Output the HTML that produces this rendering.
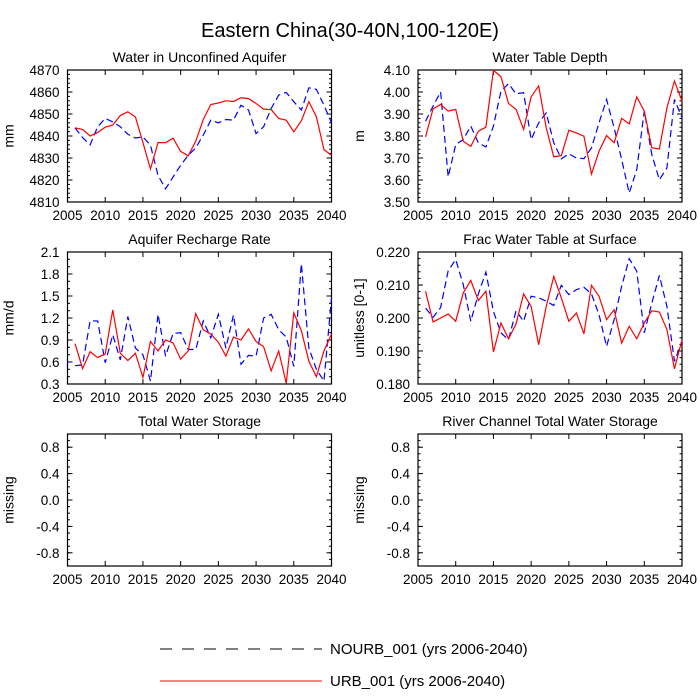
<!DOCTYPE html>
<html><head><meta charset="utf-8"><style>
html,body{margin:0;padding:0;background:#fff;}
svg{display:block;font-family:"Liberation Sans",sans-serif;}
</style></head><body>
<svg id="chart" width="700" height="700" viewBox="0 0 700 700" xmlns="http://www.w3.org/2000/svg">
<text x="350" y="37" text-anchor="middle" font-size="20">Eastern China(30-40N,100-120E)</text>
<g>
<line x1="160" y1="649" x2="322" y2="649" stroke="#000" stroke-width="1" stroke-dasharray="12,10"/>
<text x="330" y="654" font-size="15">NOURB_001 (yrs 2006-2040)</text>
<line x1="160" y1="681" x2="322" y2="681" stroke="#f00" stroke-width="1"/>
<text x="330" y="686" font-size="15">URB_001 (yrs 2006-2040)</text>
</g>
</svg>
<script>
const years = [];
for (let y = 2006; y <= 2040; y++) years.push(y);
const xTicks = [2005,2010,2015,2020,2025,2030,2035,2040];

const aquiferUrb = [4843.7,4843,4840,4841.6,4844,4845,4849.3,4851,4848.7,4837,4825,4837,4837,4839,4833,4831,4837.6,4847.5,4854.3,4855,4856,4855.7,4857.4,4857,4854.8,4852.2,4852,4848,4847.2,4841.9,4846.9,4855.6,4848.7,4833.8,4831.2];
const aquiferNourb = [4843.7,4839.3,4836,4844.2,4848,4846.4,4844.2,4840.8,4839.1,4839.6,4835.8,4822.1,4816,4821.4,4826.7,4831.2,4834.6,4840.4,4847.2,4846,4847.5,4847.2,4854,4851.8,4841.1,4844.2,4852.5,4858.6,4859.8,4855.6,4851.8,4861.9,4861.2,4854,4846];
const wtdUrb = [3.796,3.924,3.943,3.913,3.921,3.776,3.753,3.822,3.840,4.098,4.070,3.948,3.921,3.830,3.978,4.027,3.837,3.705,3.711,3.826,3.814,3.799,3.627,3.731,3.802,3.769,3.880,3.855,3.978,3.913,3.746,3.741,3.928,4.050,3.959];
const wtdNourb = [3.867,3.936,4.000,3.614,3.761,3.784,3.845,3.769,3.750,3.845,4.004,4.038,3.992,3.997,3.784,3.860,3.905,3.769,3.696,3.719,3.700,3.697,3.746,3.860,3.966,3.837,3.693,3.541,3.647,3.913,3.715,3.601,3.655,3.966,3.883];
const rechUrb = [0.85,0.51,0.74,0.66,0.71,1.31,0.72,0.62,0.72,0.39,0.88,0.75,0.90,0.86,0.64,0.75,1.26,1.04,0.98,0.87,0.68,0.94,0.90,1.05,0.88,0.81,0.48,0.75,0.31,1.27,1.03,0.61,0.40,0.75,0.98];
const rechNourb = [0.55,0.56,1.16,1.16,0.59,0.97,0.63,1.22,0.79,0.70,0.34,1.25,0.68,0.99,1.00,0.77,0.77,1.16,0.93,1.25,0.79,1.24,0.57,0.69,0.68,1.20,1.25,1.04,0.94,0.54,1.94,0.79,0.50,0.34,1.47];
const fracUrb = [0.2081,0.1988,0.2000,0.2012,0.1990,0.2076,0.2114,0.2053,0.2081,0.1897,0.1985,0.1937,0.1982,0.2073,0.2035,0.1919,0.2035,0.2126,0.2061,0.1990,0.2015,0.1952,0.2099,0.2066,0.1995,0.2025,0.1924,0.1975,0.1937,0.1985,0.2022,0.2018,0.1965,0.1846,0.1934];
const fracNourb = [0.2030,0.2002,0.2032,0.2143,0.2177,0.2101,0.1990,0.2073,0.2139,0.2020,0.1955,0.1934,0.2022,0.1990,0.2066,0.2061,0.2051,0.2038,0.2099,0.2071,0.2086,0.2093,0.2073,0.2010,0.1914,0.1995,0.2096,0.2180,0.2142,0.1955,0.2045,0.2129,0.2035,0.1869,0.1929];

const ticksAquifer = ["4810","4820","4830","4840","4850","4860","4870"];
const ticksWtd = ["3.50","3.60","3.70","3.80","3.90","4.00","4.10"];
const ticksRech = ["0.3","0.6","0.9","1.2","1.5","1.8","2.1"];
const ticksFrac = ["0.180","0.190","0.200","0.210","0.220"];
const ticksMissing = ["-0.8","-0.4","0.0","0.4","0.8"];

const NS = "http://www.w3.org/2000/svg";
const svg = document.getElementById("chart");
function mk(tag, attrs, parent) {
  const e = document.createElementNS(NS, tag);
  for (const k in attrs) e.setAttribute(k, attrs[k]);
  (parent || svg).appendChild(e);
  return e;
}

const panels = [
  {name:"aquifer", title:"Water in Unconfined Aquifer", ylab:"mm", x0:67.5, y0:70, ymin:4810, ymax:4870, ticks:ticksAquifer, minor:5, urb:aquiferUrb, nourb:aquiferNourb},
  {name:"water-table-depth", title:"Water Table Depth", ylab:"m", x0:418, y0:70, ymin:3.5, ymax:4.1, ticks:ticksWtd, minor:5, urb:wtdUrb, nourb:wtdNourb},
  {name:"recharge", title:"Aquifer Recharge Rate", ylab:"mm/d", x0:67.5, y0:252, ymin:0.3, ymax:2.1, ticks:ticksRech, minor:3, urb:rechUrb, nourb:rechNourb},
  {name:"frac-water-table", title:"Frac Water Table at Surface", ylab:"unitless [0-1]", x0:418, y0:252, ymin:0.18, ymax:0.22, ticks:ticksFrac, minor:5, urb:fracUrb, nourb:fracNourb},
  {name:"total-water-storage", title:"Total Water Storage", ylab:"missing", x0:67.5, y0:434, ymin:-1, ymax:1, ticks:ticksMissing, minor:4, urb:null, nourb:null},
  {name:"river-channel-storage", title:"River Channel Total Water Storage", ylab:"missing", x0:418, y0:434, ymin:-1, ymax:1, ticks:ticksMissing, minor:4, urb:null, nourb:null}
];
const W = 264, H = 132;

panels.forEach(p => {
  const g = mk("g", {});
  
  
  const xs = v => p.x0 + (v - 2005) / 35 * W;
  const ys = v => p.y0 + H - (v - p.ymin) / (p.ymax - p.ymin) * H;

  const t = mk("text", {x: p.x0 + W/2, y: p.y0 - 8, "text-anchor":"middle", "font-size":"14"}, g);
  t.textContent = p.title;
  
  

  const yl = mk("text", {x:0, y:0, "text-anchor":"middle", "font-size":"14", transform:`translate(${p.x0-54},${p.y0+H/2}) rotate(-90)`}, g);
  yl.textContent = p.ylab;
  
  

  xTicks.forEach(v => {
    const x = xs(v);
    mk("line", {x1:x, x2:x, y1:p.y0+H, y2:p.y0+H-5, stroke:"#000"}, g);
    mk("line", {x1:x, x2:x, y1:p.y0, y2:p.y0+5, stroke:"#000"}, g);
    const tl = mk("text", {x:x, y:p.y0+H+18, "text-anchor":"middle", "font-size":"13.5"}, g);
    tl.textContent = v;
    
    
  });
  p.ticks.forEach((lab, i) => {
    const v = parseFloat(lab);
    const y = ys(v);
    mk("line", {x1:p.x0, x2:p.x0+5, y1:y, y2:y, stroke:"#000"}, g);
    mk("line", {x1:p.x0+W, x2:p.x0+W-5, y1:y, y2:y, stroke:"#000"}, g);
    const tl = mk("text", {x:p.x0-8, y:y+5, "text-anchor":"end", "font-size":"13.5"}, g);
    tl.textContent = lab;
    
    
  });
  const step = (parseFloat(p.ticks[1]) - parseFloat(p.ticks[0])) / p.minor;
  for (let v = p.ymin; v <= p.ymax + 1e-9; v += step) {
    const y = ys(v);
    mk("line", {x1:p.x0, x2:p.x0+2.5, y1:y, y2:y, stroke:"#000"}, g);
    mk("line", {x1:p.x0+W, x2:p.x0+W-2.5, y1:y, y2:y, stroke:"#000"}, g);
  }
  mk("rect", {x:p.x0, y:p.y0, width:W, height:H, fill:"none", stroke:"#000", "stroke-width":"1.2"}, g);

  if (p.nourb) {
    const pb = mk("polyline", {points: p.nourb.map((v,i)=>xs(years[i])+","+ys(v)).join(" "), fill:"none", stroke:"#0000ff", "stroke-width":"1.2", "stroke-dasharray":"7,4"}, g);
    
    
  }
  if (p.urb) {
    const pr = mk("polyline", {points: p.urb.map((v,i)=>xs(years[i])+","+ys(v)).join(" "), fill:"none", stroke:"#ff0000", "stroke-width":"1.2"}, g);
    
    
  }
});
</script>
</body></html>
